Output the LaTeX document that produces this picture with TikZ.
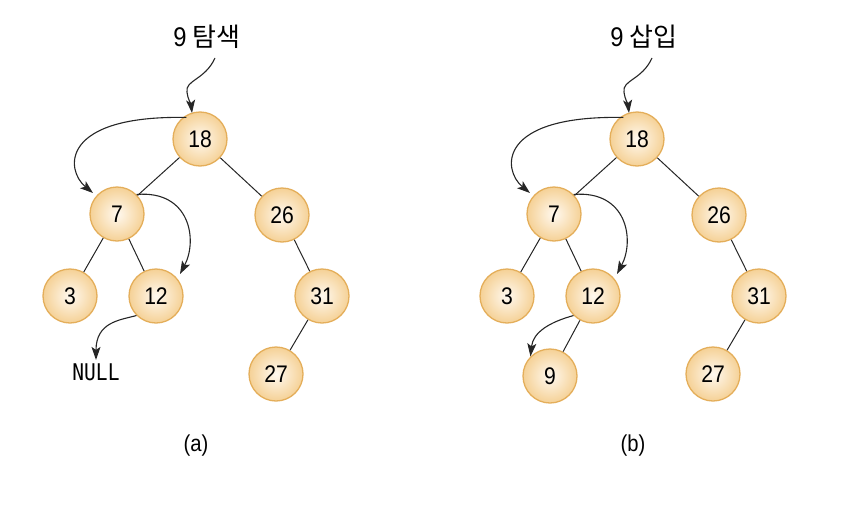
\documentclass[tikz,border=0pt]{standalone}
\usepackage{fontspec}
\setmainfont{Liberation Sans}
\newfontfamily\numf[FakeStretch=0.88]{Liberation Sans}
\newfontfamily\kor{Noto Sans CJK KR}
\newfontfamily\monof[FakeStretch=0.85]{DejaVu Sans Mono}
\usetikzlibrary{arrows.meta,shadings,calc}
\definecolor{nodeedge}{HTML}{E4AE5A}
\definecolor{nodeout}{HTML}{F5D196}
\definecolor{nodein}{HTML}{FFF9F0}
\tikzset{
  tn/.style={circle,minimum size=54pt,inner sep=0pt,draw=nodeedge,line width=1.3pt,
    inner color=nodein,outer color=nodeout,font=\numf\fontsize{24}{24}\selectfont},
  edge/.style={line width=1pt,black!85},
  arr/.style={line width=1.1pt,black!85,-{Stealth[length=13pt,width=9pt,inset=3pt]}},
  lbl/.style={font=\numf\fontsize{27}{27}\selectfont},
}
\begin{document}
\begin{tikzpicture}[x=1pt,y=-1pt]
\useasboundingbox (0,0) rectangle (850,506);
\foreach \dx/\lab/\title/\sub in {0/a/탐색/a,437/b/삽입/b}{
  \begin{scope}[xshift=\dx pt]
  \node[tn] (n18\lab) at (200,139) {18};
  \node[tn] (n7\lab) at (117,214) {7};
  \node[tn] (n26\lab) at (282,215) {26};
  \node[tn] (n3\lab) at (70,296) {3};
  \node[tn] (n12\lab) at (156,296) {12};
  \node[tn] (n31\lab) at (322,296) {31};
  \node[tn] (n27\lab) at (276,374) {27};
  \node[lbl] (t\lab) at (207,37) {9\hspace{6pt}{\kor\fontsize{26}{26}\selectfont\title}};
  \node[font=\numf\fontsize{23}{23}\selectfont] (c\lab) at (196,446) {(\sub)};
  \draw[edge] (n18\lab) -- (n7\lab);
  \draw[edge] (n18\lab) -- (n26\lab);
  \draw[edge] (n7\lab) -- (n3\lab);
  \draw[edge] (n7\lab) -- (n12\lab);
  \draw[edge] (n26\lab) -- (n31\lab);
  \draw[edge] (n31\lab) -- (n27\lab);
  \coordinate (s\lab) at (215,58);
  \draw[arr] (s\lab) .. controls (205,80) and (185,80) .. (187,92) .. controls (188,100) and (191,104) .. (192,113);
  \coordinate (p\lab) at ($(n18\lab.north west)+(6,-2)$);
  \draw[arr] (p\lab) .. controls (60,115) and (65,170) .. (93,193);
  \draw[arr] (n7\lab.north east) .. controls (190,190) and (198,240) .. (180,274);
  \end{scope}
}
\node[font=\monof\fontsize{23}{23}\selectfont] (null) at (96,372) {NULL};
\draw[arr] (n12a.south west) .. controls (120,320) and (96,322) .. (null.north);
\node[tn] (n9b) at (550,376) {9};
\draw[edge] (n12b) -- (n9b);
\draw[arr] (n12b.south west) .. controls (550,322) and (533,332) .. (n9b.north west);
\end{tikzpicture}
\end{document}
